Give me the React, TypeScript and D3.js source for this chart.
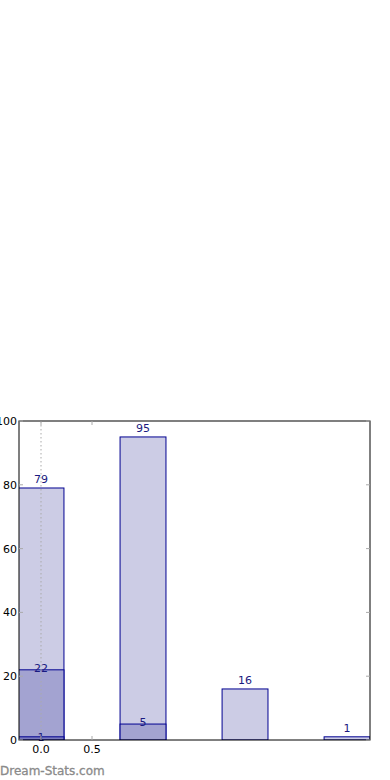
import React from "react";
import * as d3 from "d3";

const categories = [0, 1, 2, 3];
const seriesTotal = [79, 95, 16, 1];
const seriesMid = [22, 5, 0, 0];
const seriesLow = [1, 0, 0, 0];
const xTicks = [0.0, 0.5];
const yTicks = [0, 20, 40, 60, 80, 100];

export default function App() {
  const W = 390, H = 780;
  const left = 19, right = 370, top = 421, bottom = 740;
  const x = d3.scaleLinear().domain([-0.2157, 3.225]).range([left, right]);
  const y = d3.scaleLinear().domain([0, 100]).range([bottom, top]);
  const bw = 0.45;
  const edge = "#000090";
  const txt = "#1a1a80";
  const font = "DejaVu Sans, sans-serif";

  const bar = (i: number, v: number, fill: string, key: string) => {
    if (v <= 0) return null;
    const x0 = x(categories[i] - bw / 2);
    const x1 = x(categories[i] + bw / 2);
    return (
      <rect key={key} x={x0} y={y(v)} width={x1 - x0} height={y(0) - y(v)}
        fill={fill} stroke={edge} strokeWidth={1} />
    );
  };

  return (
    <svg width={W} height={H} style={{ position: "absolute", left: 0, top: 0, background: "#fff" }}>
      <defs>
        <clipPath id="plot">
          <rect x={left} y={top} width={right - left} height={bottom - top} />
        </clipPath>
      </defs>
      <g clipPath="url(#plot)">
        {seriesTotal.map((v, i) => bar(i, v, "#ccccE5", "t" + i))}
        {seriesMid.map((v, i) => bar(i, v, "#a3a3d1", "m" + i))}
        {seriesLow.map((v, i) => bar(i, v, "#7a7abd", "l" + i))}
      </g>
      <line x1={x(0)} x2={x(0)} y1={top} y2={bottom} stroke="#aaa" strokeDasharray="1.5,2.5" strokeWidth={1} />
      {seriesTotal.map((v, i) => (
        <text key={"lt" + i} x={x(categories[i])} y={y(v) - 5} textAnchor="middle" fontSize={11} fontFamily={font} fill={txt}>{v}</text>
      ))}
      {seriesMid.map((v, i) => v > 0 ? (
        <text key={"lm" + i} x={x(categories[i])} y={y(v) + 2} textAnchor="middle" fontSize={11} fontFamily={font} fill={txt}>{v}</text>
      ) : null)}
      {seriesLow.map((v, i) => v > 0 ? (
        <text key={"ll" + i} x={x(categories[i])} y={y(v) + 4} textAnchor="middle" fontSize={11} fontFamily={font} fill={txt}>{v}</text>
      ) : null)}
      <rect x={left} y={top} width={right - left} height={bottom - top} fill="none" stroke="#000" strokeWidth={1} />
      {yTicks.map(t => (
        <g key={"y" + t}>
          <line x1={left} x2={left + 4} y1={y(t)} y2={y(t)} stroke="#aaa" />
          <line x1={right - 4} x2={right} y1={y(t)} y2={y(t)} stroke="#aaa" />
          <text x={left - 2} y={y(t) + 4} textAnchor="end" fontSize={11} fontFamily={font} fill="#000">{t}</text>
        </g>
      ))}
      {xTicks.map(t => (
        <g key={"x" + t}>
          <line x1={x(t)} x2={x(t)} y1={bottom} y2={bottom - 4} stroke="#aaa" />
          <line x1={x(t)} x2={x(t)} y1={top} y2={top + 4} stroke="#aaa" />
          <text x={x(t)} y={bottom + 13} textAnchor="middle" fontSize={11} fontFamily={font} fill="#000">{t.toFixed(1)}</text>
        </g>
      ))}
      <text x={0} y={775} fontSize={12} fontFamily={font} fill="#8a8a8a" stroke="#8a8a8a" strokeWidth={0.3}>Dream-Stats.com</text>
    </svg>
  );
}
